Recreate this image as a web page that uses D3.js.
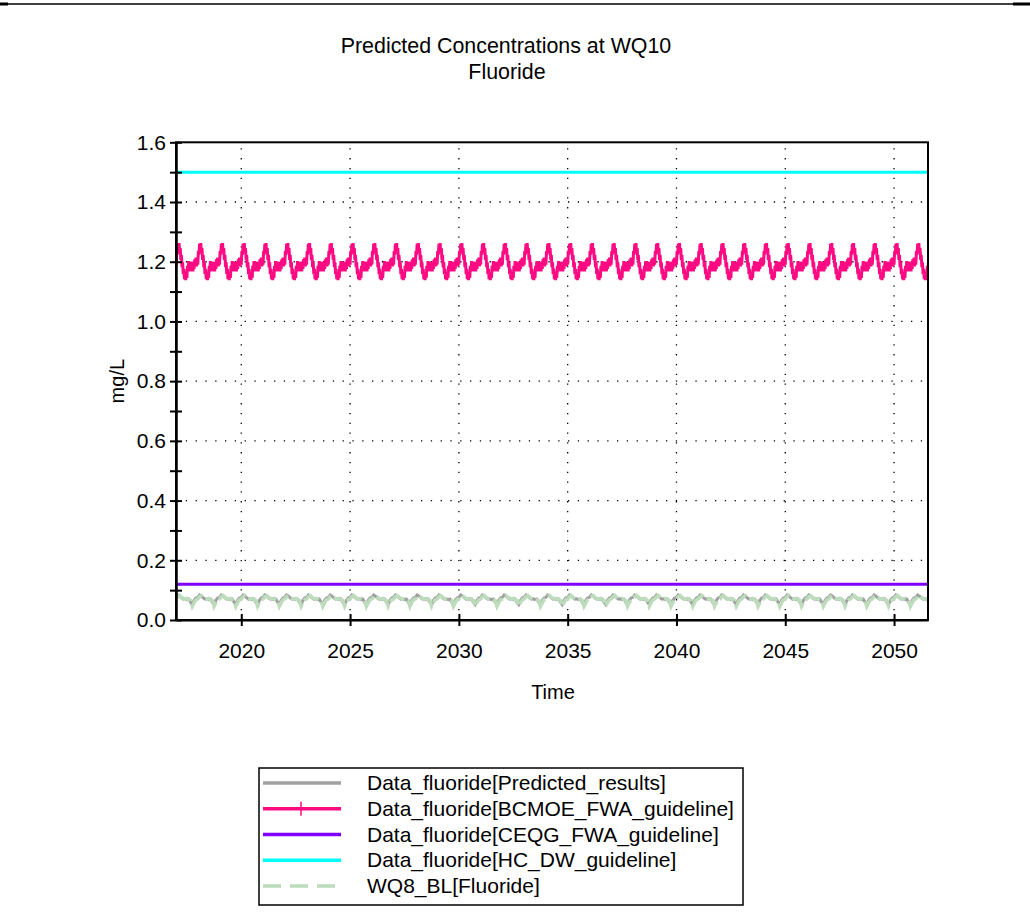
<!DOCTYPE html>
<html>
<head>
<meta charset="utf-8">
<script src="https://cdn.jsdelivr.net/npm/d3@7"></script>
<style>
body{margin:0;background:#fff;}
svg text{font-family:"Liberation Sans",Arial,sans-serif;fill:#000;}
</style>
</head>
<body>
<div class="graph"></div>
<script>
// chart text
const titleLines = ["Predicted Concentrations at WQ10", "Fluoride"];
const xLabel = "Time";
const yLabel = "mg/L";

// axes
const xDomain = [2017.0, 2051.56];
const yDomain = [0, 1.6];
const xTicks = [2020, 2025, 2030, 2035, 2040, 2045, 2050];
const yTicks = [0.0, 0.2, 0.4, 0.6, 0.8, 1.0, 1.2, 1.4, 1.6];
const yMinorTicks = [0.1, 0.3, 0.5, 0.7, 0.9, 1.1, 1.3, 1.5];

// simulated years (the model repeats the same annual cycle each year)
const simYears = [2017, 2018, 2019, 2020, 2021, 2022, 2023, 2024, 2025, 2026, 2027, 2028,
    2029, 2030, 2031, 2032, 2033, 2034, 2035, 2036, 2037, 2038, 2039, 2040, 2041, 2042,
    2043, 2044, 2045, 2046, 2047, 2048, 2049, 2050, 2051];

// annual cycle, 36 steps per year (mg/L), noisy band
const bcmoeCycle = [1.190, 1.236, 1.224, 1.260, 1.244, 1.262, 1.230, 1.246, 1.206, 1.222,
    1.182, 1.198, 1.158, 1.176, 1.142, 1.162, 1.138, 1.164, 1.146, 1.186, 1.168, 1.202,
    1.176, 1.200, 1.168, 1.198, 1.174, 1.200, 1.168, 1.198, 1.176, 1.208, 1.184, 1.214, 1.184, 1.214];
// annual cycle, monthly steps (mg/L)
const predictedCycle = [0.076, 0.084, 0.080, 0.074, 0.070, 0.071, 0.068, 0.070, 0.060, 0.052, 0.066, 0.074];
const wq8Cycle = [0.070, 0.078, 0.082, 0.076, 0.072, 0.070, 0.072, 0.068, 0.066, 0.046, 0.058, 0.068];

// constant guidelines (mg/L)
const ceqgGuideline = 0.12;
const hcGuideline = 1.5;

const legendNames = [
    "Data_fluoride[Predicted_results]",
    "Data_fluoride[BCMOE_FWA_guideline]",
    "Data_fluoride[CEQG_FWA_guideline]",
    "Data_fluoride[HC_DW_guideline]",
    "WQ8_BL[Fluoride]"
];

const colors = {
    predicted: "#a0a0a0",
    bcmoe: "#ff0a82",
    ceqg: "#8000ff",
    hc: "#00ffff",
    wq8: "#bcdcbc"
};

function expand(cycle){
    let out = [];
    simYears.forEach(function(yr){
        cycle.forEach(function(v, i){
            out.push({t: yr + i / cycle.length, v: v});
        });
    });
    return out;
}

const width = 1030, height = 924;
const plot = {left: 176, right: 928, top: 142.3, bottom: 620};
const fontSize = "21px";

const svg = d3.select(".graph").append("svg")
    .attr("width", width)
    .attr("height", height);

//page rule at the top
svg.append("line")
    .attr("x1", 0).attr("x2", width)
    .attr("y1", 4).attr("y2", 4)
    .attr("stroke", "#000").attr("stroke-width", 1.5);
svg.append("rect").attr("x", 0).attr("y", 2.5).attr("width", 8).attr("height", 3).attr("fill", "#000");
svg.append("rect").attr("x", 1013).attr("y", 2.5).attr("width", 17).attr("height", 3).attr("fill", "#000");

//Scales
const x = d3.scaleLinear().domain(xDomain).range([plot.left, plot.right]);
const y = d3.scaleLinear().domain(yDomain).range([plot.bottom, plot.top]);

//Title
svg.append("text")
    .attr("x", 506).attr("y", 53)
    .attr("text-anchor", "middle")
    .style("font-size", "21.4px")
    .text(titleLines[0]);
svg.append("text")
    .attr("x", 507).attr("y", 78.5)
    .attr("text-anchor", "middle")
    .style("font-size", "21.4px")
    .text(titleLines[1]);

//Grid
const grid = svg.append("g")
    .attr("stroke", "#000")
    .attr("stroke-width", 1.3)
    .attr("stroke-dasharray", "1.3,8.5");
grid.selectAll(".gx").data(xTicks).enter().append("line")
    .attr("x1", d => x(d)).attr("x2", d => x(d))
    .attr("y1", plot.bottom).attr("y2", plot.top);
grid.selectAll(".gy").data(yTicks.filter(d => d > 0 && d < 1.6)).enter().append("line")
    .attr("y1", d => y(d)).attr("y2", d => y(d))
    .attr("x1", plot.left).attr("x2", plot.right);

//Series
svg.append("clipPath").attr("id", "clip")
    .append("rect")
    .attr("x", plot.left).attr("y", plot.top)
    .attr("width", plot.right - plot.left).attr("height", plot.bottom - plot.top);

const line = d3.line()
    .x(d => x(d.t))
    .y(d => y(d.v));

const series = svg.append("g").attr("clip-path", "url(#clip)").attr("fill", "none");

series.append("path")
    .datum([{t: xDomain[0], v: hcGuideline}, {t: xDomain[1], v: hcGuideline}])
    .attr("stroke", colors.hc).attr("stroke-width", 3)
    .attr("d", line);

series.append("path")
    .datum(expand(bcmoeCycle))
    .attr("stroke", colors.bcmoe).attr("stroke-width", 3)
    .attr("stroke-linejoin", "bevel")
    .attr("d", line);

series.append("path")
    .datum([{t: xDomain[0], v: ceqgGuideline}, {t: xDomain[1], v: ceqgGuideline}])
    .attr("stroke", colors.ceqg).attr("stroke-width", 3)
    .attr("d", line);

series.append("path")
    .datum(expand(predictedCycle))
    .attr("stroke", colors.predicted).attr("stroke-width", 3)
    .attr("d", line);

series.append("path")
    .datum(expand(wq8Cycle))
    .attr("stroke", colors.wq8).attr("stroke-width", 3.5)
    .attr("stroke-dasharray", "18,4")
    .attr("d", line);

//Frame
svg.append("rect")
    .attr("x", plot.left).attr("y", plot.top)
    .attr("width", plot.right - plot.left).attr("height", plot.bottom - plot.top)
    .attr("fill", "none").attr("stroke", "#000").attr("stroke-width", 2);

//Axes (ticks cross the axis line)
const XAxis = svg.append("g")
    .attr("transform", "translate(0," + plot.bottom + ")")
    .call(d3.axisBottom(x).tickValues(xTicks).tickFormat(d3.format("d")).tickSize(6).tickSizeOuter(0).tickPadding(17));
XAxis.selectAll(".tick line").attr("y1", -6).attr("y2", 6).attr("stroke-width", 2);
XAxis.selectAll("text").style("font-size", fontSize);

const YAxis = svg.append("g")
    .attr("transform", "translate(" + plot.left + ",0)")
    .call(d3.axisLeft(y).tickValues(yTicks).tickFormat(d3.format(".1f")).tickSize(6).tickSizeOuter(0).tickPadding(4));
YAxis.selectAll(".tick line").attr("x1", 6).attr("x2", -6).attr("stroke-width", 2);
YAxis.selectAll("text").style("font-size", fontSize);

const YMinor = svg.append("g")
    .attr("transform", "translate(" + plot.left + ",0)")
    .call(d3.axisLeft(y).tickValues(yMinorTicks).tickFormat("").tickSize(6).tickSizeOuter(0));
YMinor.selectAll(".tick line").attr("x1", 6).attr("x2", -6).attr("stroke-width", 2);
svg.selectAll(".domain").attr("stroke", "#000").attr("stroke-width", 2);

//Axis titles
svg.append("text")
    .attr("x", 553).attr("y", 699)
    .attr("text-anchor", "middle")
    .style("font-size", "20px")
    .text(xLabel);
svg.append("text")
    .attr("transform", "translate(124," + ((plot.top + plot.bottom) / 2) + ") rotate(-90)")
    .attr("text-anchor", "middle")
    .style("font-size", "20px")
    .text(yLabel);

//Legend
const legend = svg.append("g");
legend.append("rect")
    .attr("x", 259).attr("y", 768)
    .attr("width", 484).attr("height", 137)
    .attr("fill", "none").attr("stroke", "#000").attr("stroke-width", 1.5);

const legendStyles = [
    {color: colors.predicted, dash: null, mark: false},
    {color: colors.bcmoe, dash: null, mark: true},
    {color: colors.ceqg, dash: null, mark: false},
    {color: colors.hc, dash: null, mark: false},
    {color: colors.wq8, dash: "18,9", mark: false}
];
const rowY = d3.scalePoint().domain(d3.range(legendNames.length)).range([783, 886]);

legendNames.forEach(function(name, i){
    const ly = rowY(i);
    const s = legendStyles[i];
    legend.append("line")
        .attr("x1", 263).attr("x2", 341)
        .attr("y1", ly).attr("y2", ly)
        .attr("stroke", s.color).attr("stroke-width", 3.5)
        .attr("stroke-dasharray", s.dash);
    if(s.mark){
        legend.append("line")
            .attr("x1", 301).attr("x2", 301)
            .attr("y1", ly - 7).attr("y2", ly + 7)
            .attr("stroke", s.color).attr("stroke-width", 1.5);
    }
    legend.append("text")
        .attr("x", 367).attr("y", ly + 7)
        .style("font-size", "21px")
        .text(name);
});
</script>
</body>
</html>
